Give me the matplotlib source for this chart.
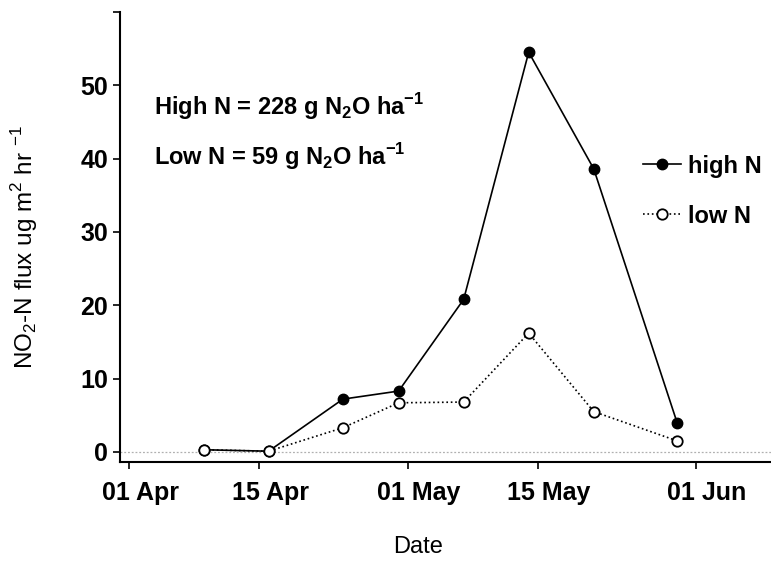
import datetime as dt
import matplotlib
matplotlib.use("Agg")
import matplotlib.pyplot as plt
import matplotlib.dates as mdates
import matplotlib.transforms as mtransforms

plt.rcParams['font.family'] = ['Liberation Sans', 'DejaVu Sans']
plt.rcParams['mathtext.fontset'] = 'custom'
plt.rcParams['mathtext.rm'] = 'Liberation Sans'
plt.rcParams['mathtext.bf'] = 'Liberation Sans:bold'

# sampling dates and fluxes (ug m-2 hr-1)
dates = ['2000-04-09', '2000-04-16', '2000-04-24', '2000-04-30',
         '2000-05-07', '2000-05-14', '2000-05-21', '2000-05-30']
high_n = [0.3, 0.1, 7.2, 8.3, 20.8, 54.5, 38.6, 3.9]
low_n = [0.3, 0.1, 3.3, 6.7, 6.8, 16.2, 5.5, 1.5]

tick_dates = ['2000-04-01', '2000-04-15', '2000-05-01', '2000-05-15', '2000-06-01']
y_ticks = [0, 10, 20, 30, 40, 50, 60]
y_labels = ['0', '10', '20', '30', '40', '50', '']

x = [dt.datetime.strptime(d, '%Y-%m-%d') for d in dates]
xt = [dt.datetime.strptime(d, '%Y-%m-%d') for d in tick_dates]

fig = plt.figure(figsize=(7.71, 5.64), dpi=100)
ax = fig.add_axes([0.1556, 0.181, 0.8444, 0.798])

# zero reference line
ax.axhline(0, color='#b0b0b0', lw=0.9, ls=(0, (1.5, 1.5)), zorder=1)

ax.plot(x, high_n, color='black', lw=1.2, marker='o', ms=7.5,
        mfc='black', mec='black', label='high N', zorder=3)
ax.plot(x, low_n, color='black', lw=1.2, ls=':', marker='o', ms=7.5,
        mfc='white', mec='black', mew=1.3, label='low N', zorder=3)

ax.set_xlim(dt.datetime(2000, 3, 31), dt.datetime(2000, 6, 9, 2))
ax.set_ylim(-1.36, 60)
ax.set_xticks(xt)
ax.xaxis.set_major_formatter(mdates.DateFormatter('%d %b'))
ax.set_yticks(y_ticks)
ax.set_yticklabels(y_labels)

for s in ['top', 'right']:
    ax.spines[s].set_visible(False)
for s in ['left', 'bottom']:
    ax.spines[s].set_linewidth(1.5)
ax.tick_params(axis='both', direction='out', length=5, width=1.2,
               labelsize=18, pad=3.5)
ax.tick_params(axis='x', pad=9)
for lab in ax.get_xticklabels() + ax.get_yticklabels():
    lab.set_fontweight('bold')
# date labels sit a little right of their ticks in the original
shift = mtransforms.ScaledTranslation(0.11, 0, fig.dpi_scale_trans)
for lab in ax.get_xticklabels():
    lab.set_transform(lab.get_transform() + shift)

ax.set_xlabel('Date', fontsize=17)
ax.xaxis.set_label_coords(0.458, -0.165)
ax.set_ylabel('NO$_2$-N flux ug m$^2$ hr $^{-1}$', fontsize=17.5)
ax.yaxis.set_label_coords(-0.123, 0.478)

ax.text(0.053, 0.79, r'High N = 228 g N$_\mathbf{2}$O ha$^\mathbf{-1}$',
        transform=ax.transAxes, fontsize=17, fontweight='bold', va='center')
ax.text(0.053, 0.678, r'Low N = 59 g N$_\mathbf{2}$O ha$^\mathbf{-1}$',
        transform=ax.transAxes, fontsize=17, fontweight='bold', va='center')

leg = ax.legend(loc='upper left', bbox_to_anchor=(0.803, 0.683), frameon=False,
                borderpad=0, borderaxespad=0, handlelength=1.6,
                handletextpad=0.3, labelspacing=1.15,
                prop={'weight': 'bold', 'size': 17})

fig.savefig('out.png', dpi=100)
